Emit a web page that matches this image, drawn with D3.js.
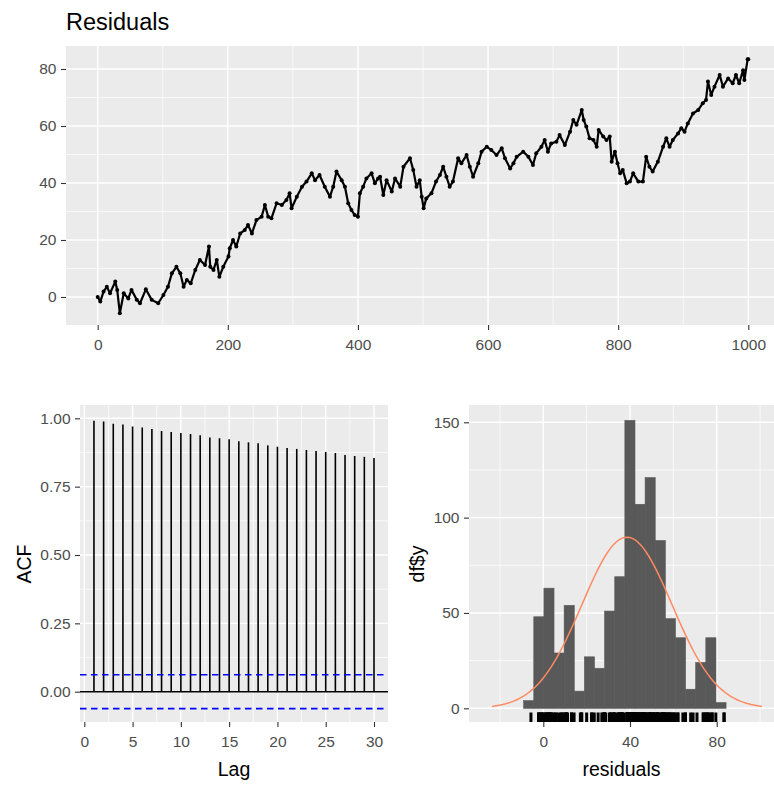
<!DOCTYPE html>
<html><head><meta charset="utf-8">
<script src="https://cdn.jsdelivr.net/npm/d3@7"></script>
<style>
body{margin:0;background:#fff;}
text{font-family:"Liberation Sans", Arial, sans-serif;}
</style>
</head><body>
<svg id="c" width="774" height="785"></svg>
<script>
// ---- data ----
const timeIndex = [0,4,9,14,19,27,30,34,40,47,52,60,65,74,83,93,101,108,114,121,127,132,137,143,150,157,165,171,173,178,183,187,193,201,203,208,213,219,226,231,237,244,252,257,262,267,275,283,290,295,298,306,314,321,329,334,341,349,357,362,367,375,380,385,390,395,400,403,408,413,421,426,431,434,439,444,452,457,465,470,480,485,490,495,498,501,505,513,520,526,531,536,541,546,554,559,567,572,577,585,590,598,605,613,621,626,634,639,644,654,662,669,674,682,687,692,697,705,710,718,726,731,736,744,747,751,756,762,767,770,777,782,787,790,795,799,803,807,813,818,823,831,838,843,848,853,861,869,874,879,884,892,897,902,907,915,923,930,935,938,943,948,956,961,969,976,981,986,992,994,999,1000];
const residuals = [0,-1.6,1.9,3.6,1.3,5.4,2.5,-5.7,1.3,-0.5,2.5,-1,-2.2,2.7,-1,-2.2,0.7,3.6,8.3,10.6,8.3,3.6,6,4.8,9.5,13,11.2,17.7,10.6,9.5,13,7.1,10.6,14.2,17.1,20,17.7,22.3,23.5,25.3,22.3,27,28.2,32.3,28.2,27.6,32.9,32.3,34,36.4,31.1,35.2,38.7,40.5,43.4,41,42.8,38.7,35.2,38.7,44,41,38.7,32.9,30.5,28.8,28.2,36.4,38.7,41.6,43.4,39.9,41.6,42.2,35.8,41,37,41.6,38.7,45.7,48.7,44.6,38.7,41,35.2,31.1,34.6,36.4,40.5,42.8,45.7,42.2,38.7,40.5,48.7,46.9,49.8,45.7,42.2,46.9,51,52.7,51.6,49.8,52.2,48.7,45.1,46.9,49.2,51,49.2,46.3,50.4,52.7,55.1,51,53.9,54.5,56.8,53.3,58,62.1,60.4,65.6,62.1,59.8,55.7,55.1,52.7,58.6,56.3,55.1,56.3,47.5,51,46.9,43.4,44.6,39.9,40.5,43.4,40.5,40.5,49.2,45.7,44,47.5,52.7,55.7,52.7,55.1,57.4,59.2,58,60.9,64.4,65.6,68,69.1,75.6,70.9,73.8,77.9,73.8,76.7,75,77.9,75,79.6,76.1,83.4,83.4];

const acfLags = [1,2,3,4,5,6,7,8,9,10,11,12,13,14,15,16,17,18,19,20,21,22,23,24,25,26,27,28,29,30];
const acfValues = [0.991,0.988,0.980,0.977,0.970,0.966,0.961,0.954,0.950,0.946,0.943,0.938,0.930,0.927,0.923,0.916,0.912,0.909,0.901,0.896,0.891,0.888,0.884,0.880,0.877,0.873,0.866,0.862,0.859,0.855];
const acfLimit = 0.062;

const histStart = -9.06;
const histWidth = 4.669;
const histCounts = [4,48,63,29,54,9,27,21,51,69,151,107,121,88,47,37,10,24,37,3];
const normalMean = 38.6;
const normalSd = 20.75;

const topXTicks = [0,200,400,600,800,1000];
const topXMinor = [100,300,500,700,900];
const topYTicks = [0,20,40,60,80];
const topYMinor = [10,30,50,70];
const acfXTicks = [0,5,10,15,20,25,30];
const acfXMinor = [2.5,7.5,12.5,17.5,22.5,27.5];
const acfYTicks = [0,0.25,0.5,0.75,1];
const acfYMinor = [0.125,0.375,0.625,0.875];
const histXTicks = [0,40,80];
const histXMinor = [-20,20,60,100];
const histYTicks = [0,50,100,150];
const histYMinor = [25,75,125];

// ---- drawing ----
const svg = d3.select("#c");
const PANEL_BG = "#EBEBEB";
const FS = 15.5, TFS = 19.5;

function makePanel(p, xs, ys, xMaj, xMin, yMaj, yMin) {
  const g = svg.append("g");
  const clipId = "clip" + Math.round(p.x0);
  svg.append("clipPath").attr("id", clipId).append("rect")
    .attr("x", p.x0).attr("y", p.y0).attr("width", p.x1 - p.x0).attr("height", p.y1 - p.y0);
  g.append("rect").attr("x", p.x0).attr("y", p.y0).attr("width", p.x1 - p.x0).attr("height", p.y1 - p.y0).attr("fill", PANEL_BG);
  const grid = g.append("g").attr("clip-path", `url(#${clipId})`);
  grid.selectAll(".ymin").data(yMin).enter().append("line")
    .attr("x1", p.x0).attr("x2", p.x1).attr("y1", d => ys(d)).attr("y2", d => ys(d))
    .attr("stroke", "#fff").attr("stroke-width", 0.7);
  grid.selectAll(".xmin").data(xMin).enter().append("line")
    .attr("y1", p.y0).attr("y2", p.y1).attr("x1", d => xs(d)).attr("x2", d => xs(d))
    .attr("stroke", "#fff").attr("stroke-width", 0.7);
  grid.selectAll(".ymaj").data(yMaj).enter().append("line")
    .attr("x1", p.x0).attr("x2", p.x1).attr("y1", d => ys(d)).attr("y2", d => ys(d))
    .attr("stroke", "#fff").attr("stroke-width", 1.4);
  grid.selectAll(".xmaj").data(xMaj).enter().append("line")
    .attr("y1", p.y0).attr("y2", p.y1).attr("x1", d => xs(d)).attr("x2", d => xs(d))
    .attr("stroke", "#fff").attr("stroke-width", 1.4);

  const ax = svg.append("g").attr("transform", `translate(0,${p.y1})`)
    .call(d3.axisBottom(xs).tickValues(xMaj).tickSize(5).tickPadding(9).tickSizeOuter(0).tickFormat(p.xfmt || d3.format("d")));
  const ay = svg.append("g").attr("transform", `translate(${p.x0},0)`)
    .call(d3.axisLeft(ys).tickValues(yMaj).tickSize(5).tickPadding(4.5).tickSizeOuter(0).tickFormat(p.yfmt || d3.format("d")));
  [ax, ay].forEach(a => {
    a.select(".domain").remove();
    a.selectAll(".tick line").attr("stroke", "#333333").attr("stroke-width", 1.1);
    a.selectAll(".tick text").attr("fill", "#4D4D4D").style("font-size", FS + "px")
      .style("font-family", '"Liberation Sans", Arial, sans-serif');
  });
  return g.append("g").attr("clip-path", `url(#${clipId})`);
}

// ---------- Top: residual time series ----------
const pTop = {x0: 66, x1: 774, y0: 46, y1: 325};
const xTop = d3.scaleLinear().domain([0, 1000]).range([97.7, 748.3]);
const yTop = d3.scaleLinear().domain([0, 80]).range([297, 69]);
const gTop = makePanel(pTop, xTop, yTop, topXTicks, topXMinor, topYTicks, topYMinor);
const tsData = timeIndex.map((t, i) => [t, residuals[i]]);
gTop.append("path").datum(tsData)
  .attr("d", d3.line().x(d => xTop(d[0])).y(d => yTop(d[1])))
  .attr("fill", "none").attr("stroke", "#000").attr("stroke-width", 2.2).attr("stroke-linejoin", "round");
gTop.selectAll(".pt").data(tsData).enter().append("circle")
  .attr("cx", d => xTop(d[0])).attr("cy", d => yTop(d[1])).attr("r", 2).attr("fill", "#000");

svg.append("text").attr("x", 66).attr("y", 30).text("Residuals")
  .style("font-size", "23.5px").attr("fill", "#000");

// ---------- ACF ----------
const pAcf = {x0: 80, x1: 388, y0: 405, y1: 722, yfmt: d3.format(".2f")};
const xAcf = d3.scaleLinear().domain([0, 30]).range([84.3, 374]);
const yAcf = d3.scaleLinear().domain([0, 1]).range([691.7, 418.3]);
const gAcf = makePanel(pAcf, xAcf, yAcf, acfXTicks, acfXMinor, acfYTicks, acfYMinor);
gAcf.selectAll(".spike").data(acfLags).enter().append("line")
  .attr("x1", d => xAcf(d)).attr("x2", d => xAcf(d))
  .attr("y1", yAcf(0)).attr("y2", (d, i) => yAcf(acfValues[i]))
  .attr("stroke", "#000").attr("stroke-width", 1.6);
gAcf.append("line").attr("x1", pAcf.x0).attr("x2", pAcf.x1).attr("y1", yAcf(0)).attr("y2", yAcf(0))
  .attr("stroke", "#000").attr("stroke-width", 1.6);
[acfLimit, -acfLimit].forEach(v => {
  gAcf.append("line").attr("x1", pAcf.x0).attr("x2", pAcf.x1).attr("y1", yAcf(v)).attr("y2", yAcf(v))
    .attr("stroke", "#0000FF").attr("stroke-width", 1.6).attr("stroke-dasharray", "6.5,4.5");
});
svg.append("text").attr("x", (pAcf.x0 + pAcf.x1) / 2).attr("y", 776).attr("text-anchor", "middle")
  .text("Lag").style("font-size", TFS + "px").attr("fill", "#000");
svg.append("text").attr("transform", "translate(31,564) rotate(-90)").attr("text-anchor", "middle")
  .text("ACF").style("font-size", TFS + "px").attr("fill", "#000");

// ---------- Histogram ----------
const pH = {x0: 469, x1: 774, y0: 405, y1: 722};
const xH = d3.scaleLinear().domain([0, 80]).range([543.3, 716.7]);
const yH = d3.scaleLinear().domain([0, 150]).range([708.3, 422.3]);
const gHist = makePanel(pH, xH, yH, histXTicks, histXMinor, histYTicks, histYMinor);
gHist.selectAll(".bar").data(histCounts).enter().append("rect")
  .attr("x", (d, i) => xH(histStart + i * histWidth))
  .attr("width", (d, i) => xH(histStart + (i + 1) * histWidth) - xH(histStart + i * histWidth))
  .attr("y", d => yH(d)).attr("height", d => yH(0) - yH(d))
  .attr("fill", "#595959").attr("stroke", "#595959").attr("stroke-width", 0.6);
gHist.selectAll(".rug").data(residuals).enter().append("line")
  .attr("x1", d => xH(d)).attr("x2", d => xH(d))
  .attr("y1", pH.y1).attr("y2", pH.y1 - 0.03 * (pH.y1 - pH.y0))
  .attr("stroke", "#000").attr("stroke-width", 3);
const nObs = d3.sum(histCounts);
const curveX = d3.range(0, 101).map(i => normalMean - 3 * normalSd + i * 6 * normalSd / 100);
const dnorm = x => Math.exp(-0.5 * Math.pow((x - normalMean) / normalSd, 2)) / (normalSd * Math.sqrt(2 * Math.PI));
gHist.append("path").datum(curveX)
  .attr("d", d3.line().x(d => xH(d)).y(d => yH(nObs * histWidth * dnorm(d))))
  .attr("fill", "none").attr("stroke", "#FF8A62").attr("stroke-width", 1.5);
svg.append("text").attr("x", (pH.x0 + pH.x1) / 2).attr("y", 776).attr("text-anchor", "middle")
  .text("residuals").style("font-size", TFS + "px").attr("fill", "#000");
svg.append("text").attr("transform", "translate(424,564) rotate(-90)").attr("text-anchor", "middle")
  .text("df$y").style("font-size", TFS + "px").attr("fill", "#000");
</script>
</body></html>
